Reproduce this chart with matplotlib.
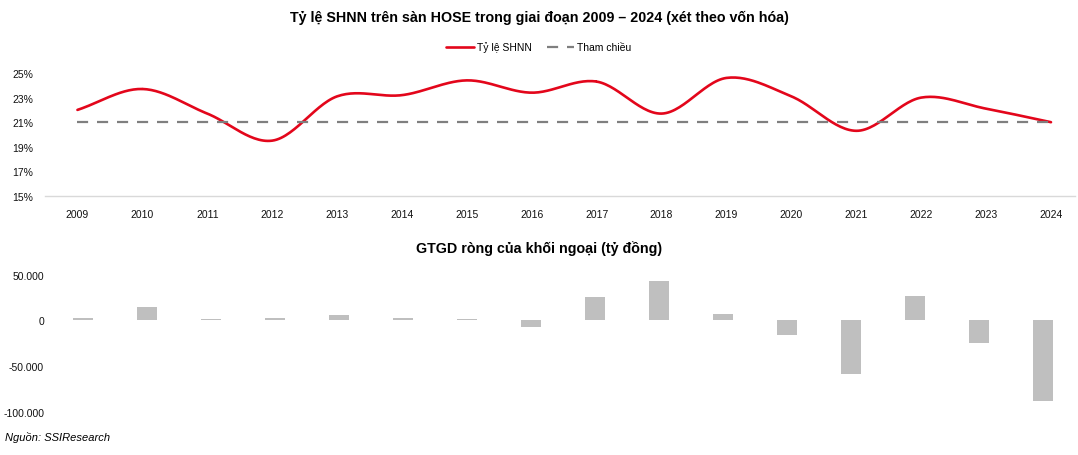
import numpy as np
import matplotlib
matplotlib.use('Agg')
import matplotlib.pyplot as plt
from matplotlib.ticker import FuncFormatter

plt.rcParams['font.family'] = ['Liberation Sans', 'DejaVu Sans']

years = [str(y) for y in range(2009, 2025)]
foreign_ratio = [22.0, 23.7, 21.7, 19.5, 23.1, 23.2, 24.4, 23.4, 24.3, 21.7,
                 24.6, 23.1, 20.3, 23.0, 22.1, 21.0]
reference_level = 21.0
net_flow = [2800, 14800, 1200, 2800, 5400, 2800, 1600, -7200, 26000, 43500,
            6500, -15500, -58500, 26800, -25000, -88500]


def smooth(x, y, n=30):
    # Catmull-Rom spline through the points, like Excel's smoothed line
    x = np.asarray(x, float)
    y = np.asarray(y, float)
    px = np.concatenate([[2 * x[0] - x[1]], x, [2 * x[-1] - x[-2]]])
    py = np.concatenate([[2 * y[0] - y[1]], y, [2 * y[-1] - y[-2]]])
    t = np.linspace(0, 1, n)
    xs, ys = [], []
    for i in range(1, len(px) - 2):
        for p, out in ((px, xs), (py, ys)):
            p0, p1, p2, p3 = p[i - 1], p[i], p[i + 1], p[i + 2]
            out.append(0.5 * ((2 * p1) + (-p0 + p2) * t
                              + (2 * p0 - 5 * p1 + 4 * p2 - p3) * t ** 2
                              + (-p0 + 3 * p1 - 3 * p2 + p3) * t ** 3))
    return np.concatenate(xs), np.concatenate(ys)


W, H = 1078, 456
fig = plt.figure(figsize=(W / 100, H / 100), dpi=100)

# top chart
ax1 = fig.add_axes([45 / W, 1 - 197 / H, 1030 / W, (197 - 74) / H])
idx = np.arange(len(years))
sx, sy = smooth(idx, foreign_ratio)
ax1.plot(sx, sy, color='#e3061b', lw=1.9, label='Tỷ lệ SHNN', solid_capstyle='round')
ax1.plot([0, len(years) - 1], [reference_level] * 2, color='#7f7f7f', lw=1.6,
         dashes=(5, 4), label='Tham chiều')
ax1.set_ylim(15, 25)
ax1.set_xlim(-0.5, 15.37)
ax1.set_yticks([15, 17, 19, 21, 23, 25])
ax1.yaxis.set_major_formatter(FuncFormatter(lambda v, p: '%d%%' % v))
ax1.set_xticks(idx)
ax1.set_xticklabels(years)
for s in ['top', 'right', 'left']:
    ax1.spines[s].set_visible(False)
ax1.spines['bottom'].set_color('#d9d9d9')
ax1.spines['bottom'].set_linewidth(1.0)
ax1.tick_params(length=0, labelsize=7.5, colors='#111111', pad=9)
ax1.tick_params(axis='y', pad=8.5)

fig.legend(loc='center', bbox_to_anchor=(0.5, 1 - 48 / H), ncol=2, frameon=False,
           fontsize=7.5, handlelength=2.6, columnspacing=1.5, handletextpad=0.3)

fig.text(0.5, 1 - 18 / H, 'Tỷ lệ SHNN trên sàn HOSE trong giai đoạn 2009 – 2024 (xét theo vốn hóa)',
         ha='center', va='center', fontsize=10.3, fontweight='bold')

# bottom chart
ax2 = fig.add_axes([51 / W, 1 - 412.7 / H, 1024 / W, (412.7 - 275.7) / H])
ax2.bar(idx, net_flow, width=0.31, color='#bfbfbf')
ax2.set_ylim(-100000, 50000)
ax2.set_xlim(-0.5, 15.5)
ax2.set_yticks([-100000, -50000, 0, 50000])
ax2.yaxis.set_major_formatter(FuncFormatter(lambda v, p: '{:,.0f}'.format(v).replace(',', '.')))
ax2.set_xticks([])
for s in ax2.spines.values():
    s.set_visible(False)
ax2.tick_params(length=0, labelsize=7.5, colors='#111111', pad=5)

fig.text(0.5, 1 - 249 / H, 'GTGD ròng của khối ngoại (tỷ đồng)',
         ha='center', va='center', fontsize=10.3, fontweight='bold')
fig.text(5 / W, 1 - 438 / H, 'Nguồn: SSIResearch', ha='left', va='center',
         fontsize=8, style='italic')

fig.savefig('out.png', dpi=100)
